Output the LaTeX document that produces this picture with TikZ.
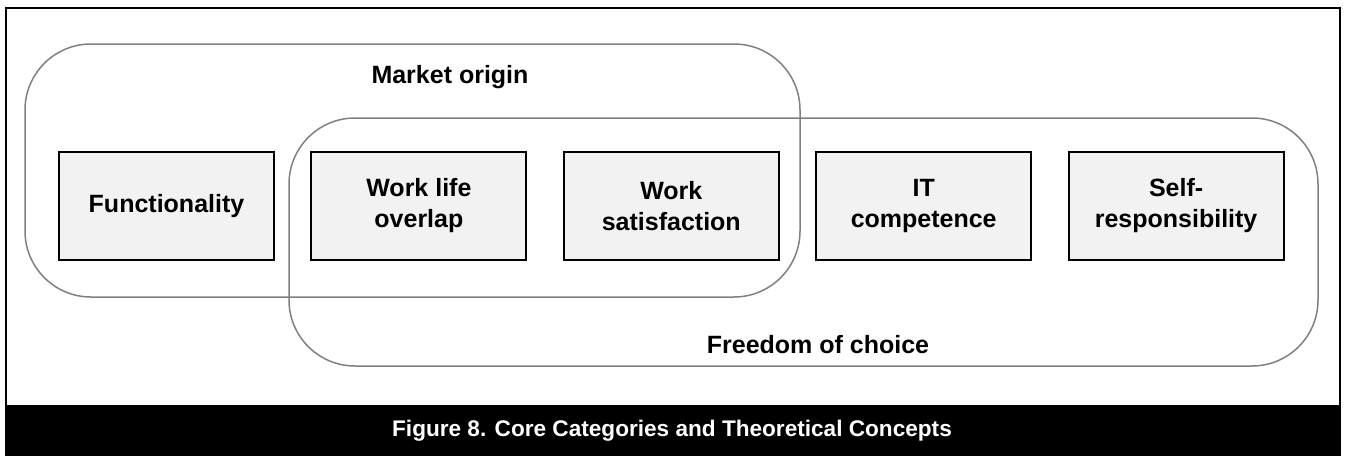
\documentclass[tikz,border=0pt]{standalone}
\usepackage{fontspec}
\setmainfont{Liberation Sans}
\usetikzlibrary{positioning}

\begin{document}
\begin{tikzpicture}[x=0.5pt, y=-0.5pt, node distance=17.7pt,
  every node/.style = {font=\fontsize{12.5}{15.5}\selectfont\bfseries,
    align=center},
  category/.style = {shape=rectangle, draw, line width=1pt,
    fill=black!5, minimum width=107.5pt, minimum height=54pt, inner sep=2pt},
  region/.style = {draw=black!50, line width=0.75pt, rounded corners=33pt}]
  \useasboundingbox (0,0) rectangle (1345,456);
  \draw[line width=1pt] (5.5,8) rectangle (1339.5,406);
  \fill (5,406) rectangle (1340.5,456);
  \draw[region] (25,44) rectangle (800,297);
  \draw[region] (289,118) rectangle (1318,366);
  \node (market) at (450,77) {Market origin};
  \node (freedom) at (818,345) {Freedom of choice};
  \node[category] (func) at (166.5,206) {Functionality};
  \node[category, right=of func] (overlap) {Work life\\overlap};
  \node[category, right=of overlap] (satisf) {Work\\satisfaction};
  \node[category, right=of satisf] (itcomp) {IT\\competence};
  \node[category, right=of itcomp] (selfresp) {Self-\\responsibility};
  \node[text=white, font=\fontsize{11.3}{13}\selectfont\bfseries] (caption)
    at (672,431) {Figure 8. Core Categories and Theoretical Concepts};
\end{tikzpicture}
\end{document}
